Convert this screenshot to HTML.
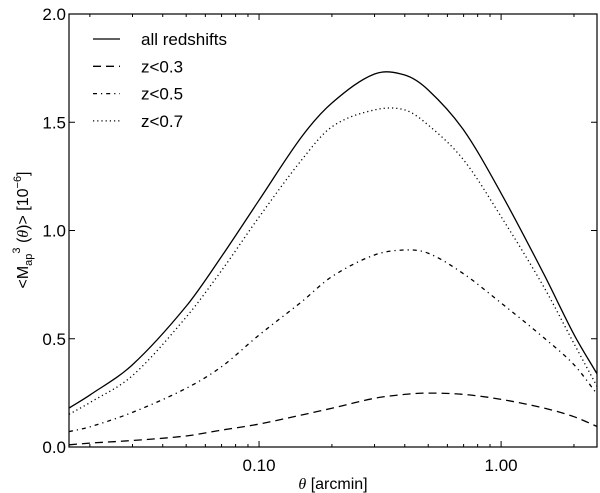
<!DOCTYPE html>
<html><head><meta charset="utf-8"><style>
html,body{margin:0;padding:0;background:#fff;}
svg{display:block;font-family:"Liberation Sans","DejaVu Sans",sans-serif;}
</style></head><body>
<svg id="chart" width="600" height="493" viewBox="0 0 600 493" xmlns="http://www.w3.org/2000/svg"></svg>
<script>
const thetas = [0.0164,0.02,0.03,0.05,0.07,0.1,0.15,0.2,0.3,0.4,0.5,0.7,1.0,1.5,2.0,2.49];
const allRedshifts = [0.18,0.24,0.38,0.65,0.88,1.14,1.433,1.589,1.723,1.718,1.649,1.464,1.172,0.80,0.52,0.338];
const zLt07 = [0.151,0.205,0.33,0.6,0.815,1.062,1.326,1.479,1.557,1.557,1.487,1.326,1.064,0.74,0.478,0.28];
const zLt05 = [0.071,0.093,0.16,0.271,0.371,0.517,0.671,0.787,0.887,0.91,0.895,0.80,0.665,0.505,0.38,0.245];
const zLt03 = [0.01,0.018,0.03,0.051,0.078,0.106,0.148,0.179,0.225,0.243,0.249,0.243,0.22,0.18,0.14,0.095];
const yTicks = [0.0,0.5,1.0,1.5,2.0];
const yTickLabels = ["0.0","0.5","1.0","1.5","2.0"];
const xMajor = [0.1,1.0];
const xMajorLabels = ["0.10","1.00"];
const legendLabels = ["all redshifts","z<0.3","z<0.5","z<0.7"];

const L=69,R=597,T=14,B=447,XMIN=0.0164,XMAX=2.49,YMIN=0,YMAX=2;
const NS="http://www.w3.org/2000/svg";
const svg=document.getElementById('chart');
function xs(v){return L+(Math.log10(v)-Math.log10(XMIN))/(Math.log10(XMAX)-Math.log10(XMIN))*(R-L);}
function ys(v){return B-(v-YMIN)/(YMAX-YMIN)*(B-T);}
function mk(tag,attrs,parent){const e=document.createElementNS(NS,tag);for(const k in attrs)e.setAttribute(k,attrs[k]);(parent||svg).appendChild(e);return e;}

const clip=mk('clipPath',{id:'pc'});mk('rect',{x:L,y:T,width:R-L,height:B-T},clip);

function pathFor(vals){
  const p=thetas.map((t,i)=>[xs(t),ys(vals[i])]);
  const n=p.length,m=[];
  for(let i=0;i<n;i++){
    const a=p[Math.max(0,i-1)],b=p[Math.min(n-1,i+1)];
    m.push((b[1]-a[1])/(b[0]-a[0]));
  }
  let d='M'+p[0][0].toFixed(2)+','+p[0][1].toFixed(2);
  for(let i=0;i<n-1;i++){
    const h=p[i+1][0]-p[i][0];
    const c1=[p[i][0]+h/3,p[i][1]+m[i]*h/3];
    const c2=[p[i+1][0]-h/3,p[i+1][1]-m[i+1]*h/3];
    d+=' C'+c1[0].toFixed(2)+','+c1[1].toFixed(2)+' '+c2[0].toFixed(2)+','+c2[1].toFixed(2)+' '+p[i+1][0].toFixed(2)+','+p[i+1][1].toFixed(2);
  }
  return d;
}
const dashes=["","8,5","4,4,1.2,4","1.2,3"];
const seriesNames=['line-all-redshifts','line-z-lt-0.3','line-z-lt-0.5','line-z-lt-0.7'];
[allRedshifts,zLt03,zLt05,zLt07].forEach((vals,i)=>{
  const e=mk('path',{d:pathFor(vals),fill:'none',stroke:'#000','stroke-width':1.3,'stroke-dasharray':dashes[i]||'none','clip-path':'url(#pc)'});
  
  
});

const fr=mk('rect',{x:L,y:T,width:R-L,height:B-T,fill:'none',stroke:'#000','stroke-width':1.2});



yTicks.forEach((v,i)=>{
  const y=ys(v);
  mk('line',{x1:L,x2:L+6,y1:y,y2:y,stroke:'#000','stroke-width':1});
  mk('line',{x1:R,x2:R-6,y1:y,y2:y,stroke:'#000','stroke-width':1});
  const t=mk('text',{x:L-3,y:y+6,'text-anchor':'end','font-size':17});
  t.textContent=yTickLabels[i];
  
  
});
for(let dec=-2;dec<=0;dec++){
  for(let m=1;m<=9;m++){
    const v=m*Math.pow(10,dec);
    if(v<XMIN||v>XMAX)continue;
    const x=xs(v),len=(m===1)?6:3;
    mk('line',{x1:x,x2:x,y1:B,y2:B-len,stroke:'#000','stroke-width':1});
    mk('line',{x1:x,x2:x,y1:T,y2:T+len,stroke:'#000','stroke-width':1});
  }
}
xMajor.forEach((v,i)=>{
  const t=mk('text',{x:xs(v),y:B+24,'text-anchor':'middle','font-size':17});
  t.textContent=xMajorLabels[i];
  
  
});
const xt=mk('text',{x:333,y:B+42,'text-anchor':'middle','font-size':16});
xt.innerHTML='<tspan font-family="Liberation Serif,serif" font-style="italic">θ</tspan> [arcmin]';


const yt=mk('text',{x:0,y:0,'text-anchor':'middle','font-size':16,transform:'translate(28,230) rotate(-90)'});
yt.innerHTML='&lt;M<tspan font-size="11" dy="4">ap</tspan><tspan font-size="11" dy="-12">3</tspan><tspan dy="8"> (</tspan><tspan font-family="Liberation Serif,serif" font-style="italic">θ</tspan>)&gt;  [10<tspan font-size="11" dy="-7">−6</tspan><tspan dy="7">]</tspan>';


legendLabels.forEach((lab,i)=>{
  const y=39+i*27.3;
  const ln=mk('line',{x1:93,x2:120,y1:y,y2:y,stroke:'#000','stroke-width':1.3,'stroke-dasharray':dashes[i]||'none'});
  
  
  const t=mk('text',{x:141,y:y+6,'font-size':17});
  t.textContent=lab;
  
  
});
</script>
</body></html>
